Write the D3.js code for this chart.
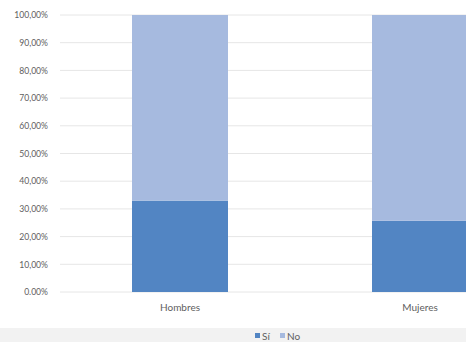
<!DOCTYPE html>
<html><head><meta charset="utf-8">
<script src="https://cdn.jsdelivr.net/npm/d3@7"></script>
<style>
html,body{margin:0;padding:0;background:#fff;overflow:hidden}
text{font-family:Lato, "Open Sans", sans-serif;fill:#606060}
</style></head><body>
<svg id="c" width="466" height="342"></svg>
<script>
const categories = ["Hombres", "Mujeres"];
const si = [33.0, 25.7];
const no = [67.0, 74.3];
const yTicks = [0,10,20,30,40,50,60,70,80,90,100];
const seriesNames = ["Sí", "No"];
const colors = ["#5285c3", "#a6badf"];

const svg = d3.select("#c");
svg.append("rect").attr("x",0).attr("y",328).attr("width",466).attr("height",14).attr("fill","#f2f2f2");

const x = d3.scaleBand().domain(categories).range([60, 540]).paddingInner(0.6).paddingOuter(0.3);
const y = d3.scaleLinear().domain([0,100]).range([292, 15]);

const fmt = v => v.toFixed(2).replace(".", ",") + "%";

svg.append("g").selectAll("line").data(yTicks).join("line")
  .attr("x1",60).attr("x2",540)
  .attr("y1",d=>y(d)).attr("y2",d=>y(d))
  .attr("stroke","#e6e6e6").attr("stroke-width",1);

const yAxis = d3.axisLeft(y).tickValues(yTicks).tickFormat(d => d===0 ? "0.00%" : fmt(d)).tickSize(0).tickPadding(0);
const ya = svg.append("g").attr("transform","translate(48,0)").call(yAxis);
ya.select(".domain").remove();
ya.selectAll("text").style("font-size","8.6px").attr("fill","#606060");

const stack = categories.map((c,i)=>({c, s:si[i], n:no[i]}));
svg.append("g").selectAll("rect").data(stack).join("rect")
  .attr("x",d=>x(d.c)).attr("width",x.bandwidth())
  .attr("y",d=>y(d.s)).attr("height",d=>y(0)-y(d.s)).attr("fill",colors[0]);
svg.append("g").selectAll("rect").data(stack).join("rect")
  .attr("x",d=>x(d.c)).attr("width",x.bandwidth())
  .attr("y",d=>y(d.s+d.n)).attr("height",d=>y(d.s)-y(d.s+d.n)).attr("fill",colors[1]);

const xAxis = d3.axisBottom(x).tickSize(0).tickPadding(0);
const xa = svg.append("g").attr("transform","translate(0,304)").call(xAxis);
xa.select(".domain").remove();
xa.selectAll("text").style("font-size","10px").attr("fill","#606060");

const lg = svg.append("g").attr("transform","translate(255,340)");
const items = [{n:seriesNames[0],c:colors[0],x:0},{n:seriesNames[1],c:colors[1],x:25}];
items.forEach(it=>{
  lg.append("rect").attr("x",it.x).attr("y",-7).attr("width",5).attr("height",5).attr("fill",it.c);
  lg.append("text").attr("x",it.x+7).attr("y",0).style("font-size","10px").text(it.n);
});
</script>
</body></html>
